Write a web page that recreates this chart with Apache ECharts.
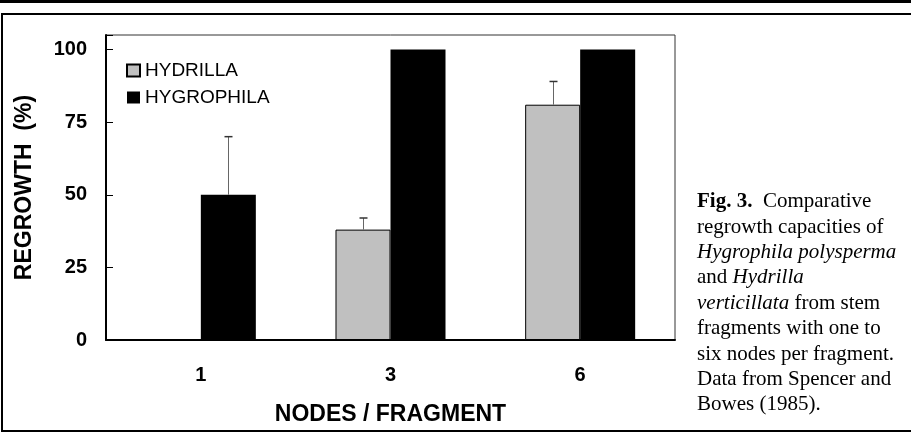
<!DOCTYPE html>
<html>
<head>
<meta charset="utf-8">
<script src="https://cdn.jsdelivr.net/npm/echarts@6/dist/echarts.min.js"></script>
<style>
html,body{margin:0;padding:0;background:#fff;}
#chart{width:911px;height:433px;}
</style>
</head>
<body>
<div id="chart"></div>
<script>
// ---- data ----
const categories = ['1', '3', '6'];
const hydrilla = [0, 38, 81];
const hygrophila = [50, 100, 100];
const hydrillaUpper = [null, 42, 89];   // top of error bar
const hygrophilaUpper = [70, null, null];
const yMin = 0, yMax = 105, yStep = 25;
const seriesNames = ['HYDRILLA', 'HYGROPHILA'];
const captionLines = [
  '{b|Fig. 3.}  Comparative',
  'regrowth capacities of',
  '{i|Hygrophila polysperma}',
  'and {i|Hydrilla}',
  '{i|verticillata} from stem',
  'fragments with one to',
  'six nodes per fragment.',
  'Data from Spencer and',
  'Bowes (1985).'
];

const GAP = 0.42;
function errData(vals, upper) {
  const out = [];
  vals.forEach((v, i) => { if (upper[i] != null) out.push([i, v, upper[i]]); });
  return out;
}
function errSeries(name, vals, upper, side) {
  return {
    type: 'custom', name: name + '_err', z: 10, silent: true,
    renderItem: function (params, api) {
      const x = api.value(0), v = api.value(1), u = api.value(2);
      const base = api.coord([x, v]);
      const top = api.coord([x, u]);
      const band = api.size([1, 0])[0];
      const bw = band * (1 - GAP) / 2;
      const cx = Math.round(base[0] + side * bw / 2) + 0.5;
      return {
        type: 'group',
        children: [
          { type: 'line', shape: { x1: cx, y1: base[1], x2: cx, y2: top[1] }, style: { stroke: '#666', lineWidth: 1 } },
          { type: 'line', shape: { x1: cx - 4, y1: top[1], x2: cx + 4, y2: top[1] }, style: { stroke: '#333', lineWidth: 1.5 } }
        ]
      };
    },
    data: errData(vals, upper)
  };
}

const chart = echarts.init(document.getElementById('chart'), null, { renderer: 'canvas' });
const SANS = '"Liberation Sans", Arial, sans-serif';
const SERIF = '"Liberation Serif", "Times New Roman", serif';
const CAP = 21, CAP_LH = 25.4;

chart.setOption({
  animation: false,
  backgroundColor: '#fff',
  textStyle: { fontFamily: SANS, color: '#000' },
  grid: { left: 106, right: 236, top: 35, bottom: 93, show: true, borderColor: '#333', borderWidth: 1, backgroundColor: 'transparent' },
  legend: {
    data: seriesNames,
    orient: 'vertical', left: 121, top: 56,
    itemWidth: 13, itemHeight: 12, itemGap: 8,
    textStyle: { fontFamily: SANS, fontSize: 19, color: '#000' },
    icon: 'rect'
  },
  xAxis: {
    type: 'category', data: categories,
    axisLine: { lineStyle: { color: '#000', width: 2 } },
    axisTick: { inside: true, length: 7, lineStyle: { color: '#000', width: 1 } },
    axisLabel: { fontFamily: SANS, fontWeight: 'bold', fontSize: 20, color: '#000', margin: 25 },
    name: 'NODES / FRAGMENT', nameLocation: 'middle', nameGap: 63,
    nameTextStyle: { fontFamily: SANS, fontWeight: 'bold', fontSize: 23, color: '#000' }
  },
  yAxis: {
    type: 'value', min: yMin, max: yMax, interval: yStep,
    splitLine: { show: false },
    axisLine: { show: true, lineStyle: { color: '#000', width: 2 } },
    axisTick: { show: true, inside: true, length: 7, lineStyle: { color: '#000', width: 1 } },
    axisLabel: { fontFamily: SANS, fontWeight: 'bold', fontSize: 20, color: '#000', margin: 19,
      formatter: v => (v % yStep === 0 ? String(v) : '') },
    name: 'REGROWTH  (%)', nameLocation: 'middle', nameGap: 70,
    nameTextStyle: { fontFamily: SANS, fontWeight: 'bold', fontSize: 23, color: '#000' }
  },
  series: [
    { name: seriesNames[0], type: 'bar', data: hydrilla, barGap: '0%', barCategoryGap: (GAP * 100) + '%',
      itemStyle: { color: '#c0c0c0', borderColor: '#000', borderWidth: 1 } },
    { name: seriesNames[1], type: 'bar', data: hygrophila, barGap: '0%', barCategoryGap: (GAP * 100) + '%',
      itemStyle: { color: '#000' } },
    errSeries(seriesNames[0], hydrilla, hydrillaUpper, -1),
    errSeries(seriesNames[1], hygrophila, hygrophilaUpper, 1)
  ],
  graphic: [
    { type: 'rect', shape: { x: 0, y: 0, width: 911, height: 3 }, style: { fill: '#000' }, silent: true },
    { type: 'polyline', shape: { points: [[930, 14], [2, 14], [2, 431], [930, 431]] }, style: { stroke: '#000', lineWidth: 2, fill: null }, silent: true },
    { type: 'text', left: 697, top: 189, silent: true,
      style: {
        text: captionLines.join('\n'),
        fontFamily: SERIF, fontSize: CAP, lineHeight: CAP_LH, fill: '#000',
        rich: {
          b: { fontFamily: SERIF, fontWeight: 'bold', fontSize: CAP, lineHeight: CAP_LH },
          i: { fontFamily: SERIF, fontStyle: 'italic', fontSize: CAP, lineHeight: CAP_LH }
        }
      }
    }
  ]
});
</script>
</body>
</html>
